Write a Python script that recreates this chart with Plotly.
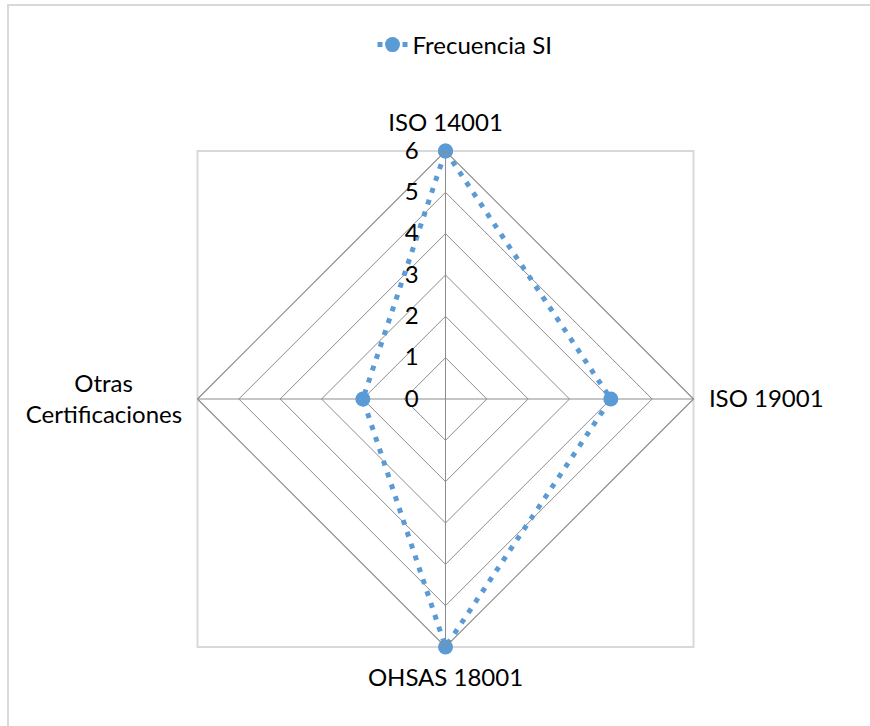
import plotly.graph_objects as go

nb = "\u00a0"
categories = ["ISO 14001", "ISO 19001", "OHSAS 18001",
              "Otras" + nb * 8 + "<br>Certificaciones"]
values = [6, 4, 6, 2]
series_name = "Frecuencia SI"
tick_vals = [0, 1, 2, 3, 4, 5, 6]

W, H = 870, 726
cx, cy, R = 445.5, 399, 248
dom_x = [(cx - R) / W, (cx + R) / W]
dom_y = [1 - (cy + R) / H, 1 - (cy - R) / H]

blue = "#5B9BD5"
grid = "#8C8C8C"
font = "Lato, 'Open Sans', sans-serif"

fig = go.Figure()
fig.add_trace(go.Scatterpolar(
    r=values + values[:1],
    theta=categories + categories[:1],
    mode="lines+markers",
    name=series_name,
    line=dict(color=blue, width=5, dash="5px,7.5px"),
    marker=dict(color=blue, size=15),
    cliponaxis=False,
))

fig.update_layout(
    width=W, height=H,
    margin=dict(l=0, r=0, t=0, b=0),
    paper_bgcolor="white",
    plot_bgcolor="white",
    font=dict(family=font, size=24, color="#000000"),
    showlegend=True,
    legend=dict(orientation="h", x=(465) / W, xanchor="center", y=1 - 45 / H, yanchor="middle",
                font=dict(size=24)),
    polar=dict(
        domain=dict(x=dom_x, y=dom_y),
        gridshape="linear",
        bgcolor="white",
        radialaxis=dict(
            range=[0, 6], tickvals=tick_vals, angle=90, side="counterclockwise",
            showline=False, gridcolor=grid, gridwidth=1.2,
            ticks="outside", ticklen=18, tickcolor="rgba(0,0,0,0)",
            tickfont=dict(size=24), tickangle=90,
        ),
        angularaxis=dict(
            rotation=90, direction="clockwise",
            showline=True, linecolor=grid, linewidth=1.2,
            gridcolor=grid, gridwidth=1.2,
            ticks="outside", ticklen=10, tickcolor="rgba(0,0,0,0)",
            tickfont=dict(size=24),
        ),
    ),
    shapes=[
        dict(type="rect", xref="paper", yref="paper",
             x0=dom_x[0], x1=dom_x[1], y0=dom_y[0], y1=dom_y[1],
             line=dict(color="#D9D9D9", width=2), layer="below"),
        dict(type="rect", xref="paper", yref="paper",
             x0=8 / W, x1=1.02, y0=-0.02, y1=1 - 5 / H,
             line=dict(color="#D9D9D9", width=2), layer="below"),
    ],
)

fig.write_html("out.html", config={"displayModeBar": False},
               post_script="document.body.style.margin='0';")
